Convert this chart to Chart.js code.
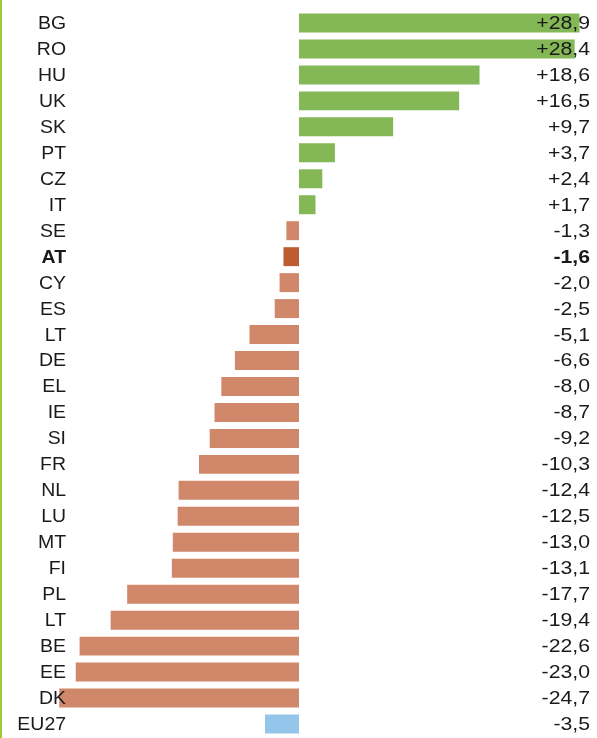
<!DOCTYPE html>
<html lang="de">
<head>
<meta charset="UTF-8">
<title>Veränderung</title>
<style>
  html, body { margin: 0; padding: 0; background: #fff; }
  .wrap { width: 597px; height: 738px; position: relative; }
</style>
</head>
<body>
<div class="wrap">
  <canvas id="myChart"></canvas>
</div>

<script src="https://cdn.jsdelivr.net/npm/chart.js"></script>
<script>
// Länder und Werte (in %)
var laender = ['BG', 'RO', 'HU', 'UK', 'SK', 'PT', 'CZ', 'IT', 'SE', 'AT', 'CY', 'ES', 'LT', 'DE',
  'EL', 'IE', 'SI', 'FR', 'NL', 'LU', 'MT', 'FI', 'PL', 'LT', 'BE', 'EE', 'DK', 'EU27'];
var werte = [28.9, 28.4, 18.6, 16.5, 9.7, 3.7, 2.4, 1.7, -1.3, -1.6, -2.0, -2.5, -5.1, -6.6,
  -8.0, -8.7, -9.2, -10.3, -12.4, -12.5, -13.0, -13.1, -17.7, -19.4, -22.6, -23.0, -24.7, -3.5];
var hervorgehoben = 'AT';
var gesamt = 'EU27';

var GRUEN = '#84b857';
var ORANGE = '#d0876a';
var DUNKEL = '#bd5c31';
var BLAU = '#93c6ea';
var SCHRIFT = '"Liberation Sans", Arial, sans-serif';

function farbe(i) {
  if (laender[i] === gesamt) return BLAU;
  if (laender[i] === hervorgehoben) return DUNKEL;
  return werte[i] >= 0 ? GRUEN : ORANGE;
}

function formatWert(v) {
  var s = Math.abs(v).toFixed(1).replace('.', ',');
  return (v > 0 ? '+' : '-') + s;
}

function text(ctx, t, x, y, sx) {
  ctx.save();
  ctx.translate(x, y);
  ctx.scale(sx, 1);
  ctx.textAlign = 'right';
  ctx.fillText(t, 0, 0);
  ctx.restore();
}

var beschriftung = {
  id: 'beschriftung',
  beforeDraw: function (chart) {
    var ctx = chart.ctx;
    ctx.save();
    ctx.fillStyle = '#9acd32';
    ctx.fillRect(0, 0, 2, chart.height);
    ctx.restore();
  },
  afterDatasetsDraw: function (chart) {
    var ctx = chart.ctx;
    var y = chart.scales.y;
    ctx.save();
    ctx.fillStyle = '#1a1a1a';
    ctx.textBaseline = 'middle';
    for (var i = 0; i < laender.length; i++) {
      var py = y.getPixelForValue(i) + 1;
      var fett = laender[i] === hervorgehoben;
      ctx.font = (fett ? 'bold ' : '') + '18px ' + SCHRIFT;
      text(ctx, laender[i], 66, py, 1.08);
      text(ctx, formatWert(werte[i]), 590, py, 1.18);
    }
    ctx.restore();
  }
};

var ctx = document.getElementById('myChart').getContext('2d');
new Chart(ctx, {
  type: 'bar',
  data: {
    labels: laender,
    datasets: [{
      data: werte,
      backgroundColor: laender.map(function (l, i) { return farbe(i); }),
      borderWidth: 0,
      barPercentage: 0.73,
      categoryPercentage: 1
    }]
  },
  options: {
    indexAxis: 'y',
    responsive: true,
    maintainAspectRatio: false,
    animation: false,
    layout: { padding: { top: 10, bottom: 1, left: 0, right: 0 } },
    scales: {
      x: { display: false, min: -30.8, max: 30.7 },
      y: { display: false }
    },
    plugins: {
      legend: { display: false },
      tooltip: { enabled: false }
    }
  },
  plugins: [beschriftung]
});
</script>
</body>
</html>
